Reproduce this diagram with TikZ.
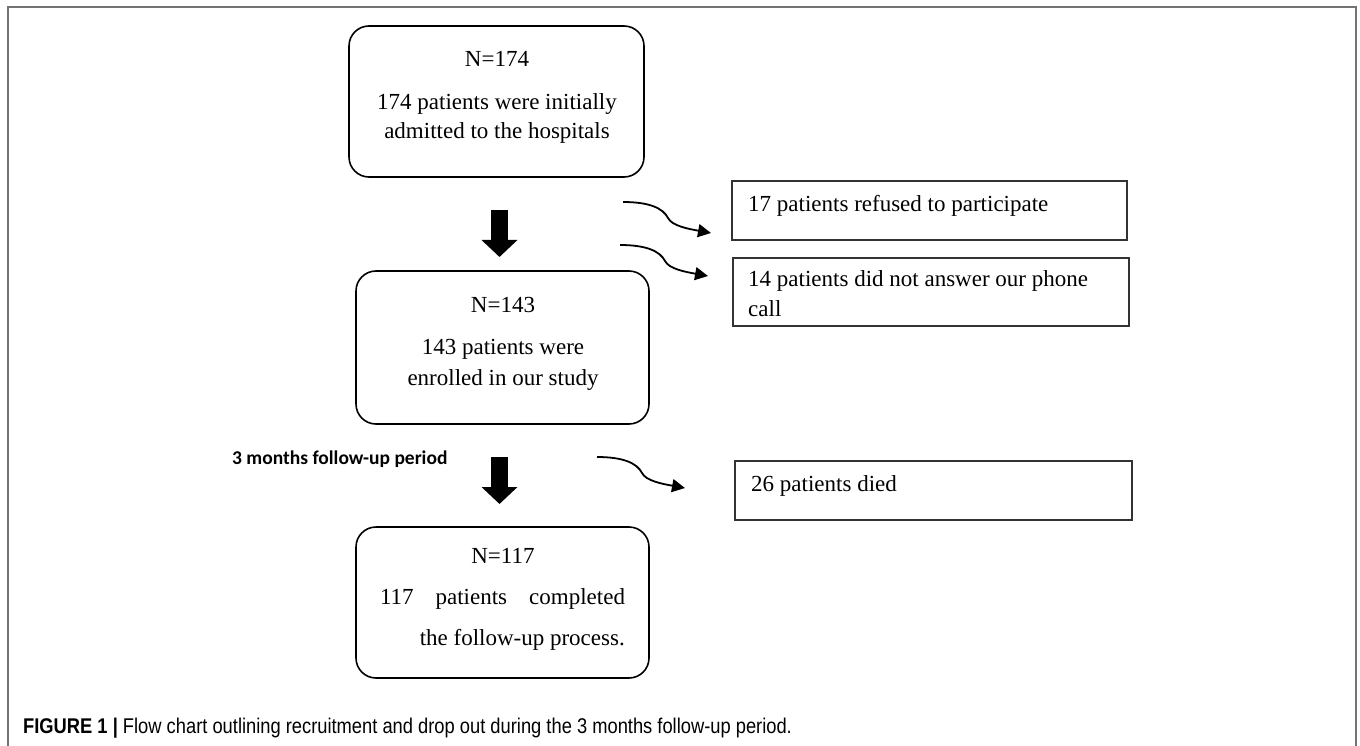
\documentclass[tikz,border=0pt]{standalone}
\usepackage{fontspec}
\setmainfont{Liberation Serif}
\newfontfamily\lblfont{Carlito}
\newfontfamily\capfont[FakeStretch=0.86]{Liberation Sans}
\usetikzlibrary{arrows.meta,calc}
\begin{document}
\begin{tikzpicture}[x=1pt,y=-1pt,
  rbox/.style={draw, line width=1.6pt, rounded corners=20pt, inner sep=0pt},
  btxt/.style={anchor=base, inner sep=0pt, font=\fontsize{23}{30}\selectfont},
  sbox/.style={draw=black!80, line width=1.2pt, inner sep=0pt},
  stxt/.style={anchor=base west, inner sep=0pt, font=\fontsize{23}{30}\selectfont},
  fat/.style={line width=17pt, -{Triangle[length=17pt,width=35pt]}},
  curvy/.style={line width=1.8pt, -{Triangle[length=13pt,width=13pt]}},
]
\useasboundingbox (0,0) rectangle (1360,746);
% frame
\draw[line width=2pt, black!55] (8,746) -- (8,7) -- (1356,7) -- (1356,746);

% main boxes
\node[rbox, minimum width=295pt, minimum height=151pt] (b1) at (496.5,101.5) {};
\node[btxt] (b1n) at (497,67) {N=174};
\node[btxt] (b1a) at (497,110) {174 patients were initially};
\node[btxt] (b1b) at (497,139) {admitted to the hospitals};

\node[rbox, minimum width=293pt, minimum height=153pt] (b2) at (502.5,347.5) {};
\node[btxt] (b2n) at (503,312) {N=143};
\node[btxt] (b2a) at (503,354) {143 patients were};
\node[btxt] (b2b) at (503,385) {enrolled in our study};

\node[rbox, minimum width=293pt, minimum height=151pt] (b3) at (502.5,602.5) {};
\node[btxt] (b3n) at (503,563) {N=117};
\node[btxt] (b3a) at (502.5,604) {\makebox[245pt]{117\hfill patients\hfill completed}};
\node[stxt, anchor=base east] (b3b) at (625,645) {the follow-up process.};

% side boxes
\node[sbox, minimum width=395pt, minimum height=59pt] (r1) at (929.5,210.5) {};
\node[stxt] (t1) at (748,212) {17 patients refused to participate};
\node[sbox, minimum width=396pt, minimum height=68pt] (r2) at (931,292) {};
\node[stxt] (t2a) at (748,286) {14 patients did not answer our phone};
\node[stxt] (t2b) at (748,316) {call};
\node[sbox, minimum width=397pt, minimum height=59pt] (r3) at (933.5,490.5) {};
\node[stxt] (t3) at (751,491) {26 patients died};

% follow-up label
\node[anchor=base west, inner sep=0pt, font=\lblfont\bfseries\fontsize{19.5}{21}\selectfont] (fu) at (232,464)
  {3 months follow-up period};

% fat arrows
\coordinate (a1s) at (499.5,210); \coordinate (a1e) at (499.5,257);
\coordinate (a2s) at (499.5,457); \coordinate (a2e) at (499.5,504);
\draw[fat] (a1s) -- (a1e);
\draw[fat] (a2s) -- (a2e);

% curvy arrows
\coordinate (c1s) at (623,202); \coordinate (c1e) at (711,233);
\coordinate (c2s) at (620,245); \coordinate (c2e) at (708,276);
\coordinate (c3s) at (597,457); \coordinate (c3e) at (685,488);
\foreach \s/\e in {c1s/c1e, c2s/c2e, c3s/c3e}{
  \draw[curvy] (\s) .. controls ($(\s)+(26,0)$) and ($(\s)+(40,6)$) .. ($(\s)+(45,16)$)
     .. controls ($(\s)+(49,24)$) and ($(\e)+(-22,-4)$) .. (\e);
}

% caption
\node[anchor=base west, inner sep=0pt, font=\capfont\fontsize{21.3}{24}\selectfont] (cap) at (23,733)
  {\textbf{FIGURE 1 |} Flow chart outlining recruitment and drop out during the 3 months follow-up period.};
\end{tikzpicture}
\end{document}
